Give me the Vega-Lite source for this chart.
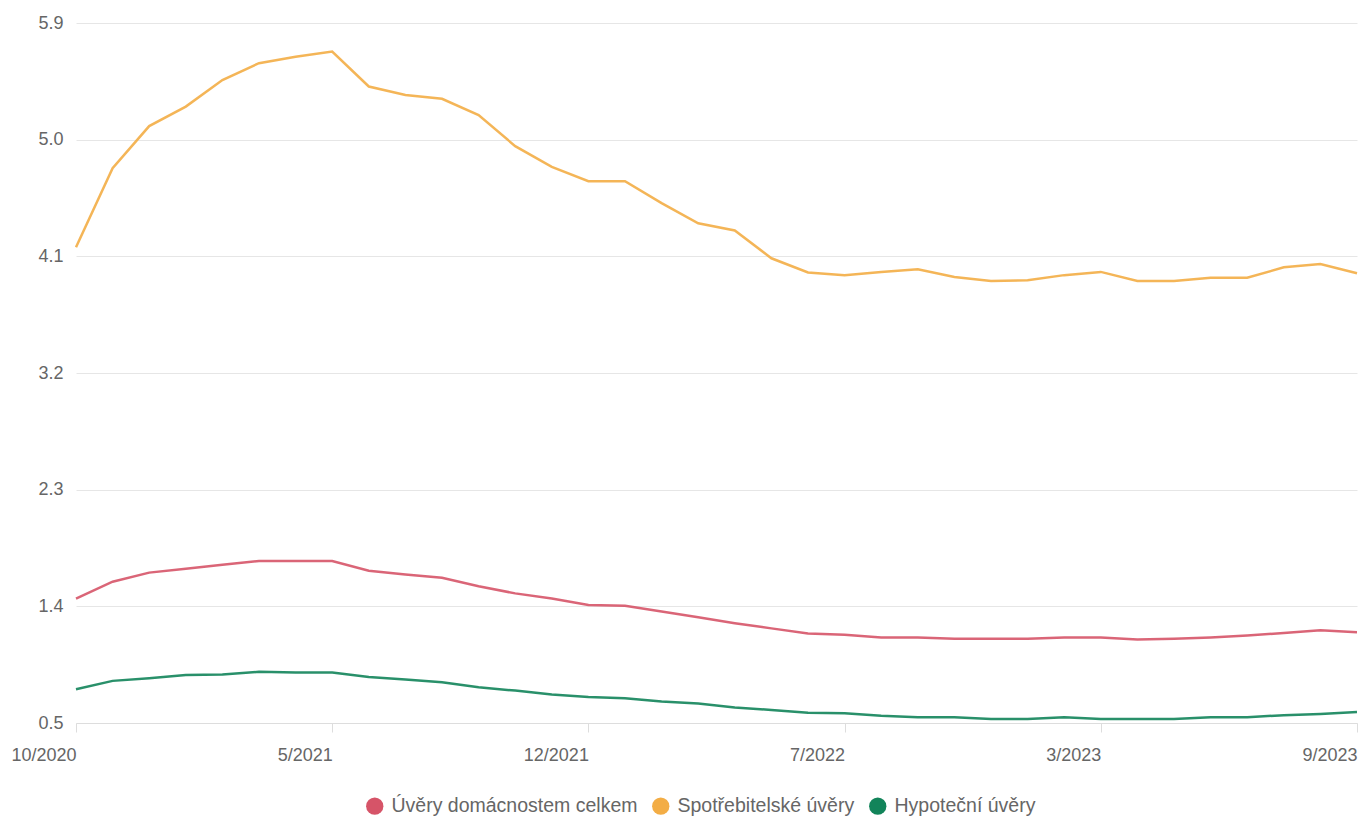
{
  "$schema": "https://vega.github.io/schema/vega-lite/v6.json",
  "width": 1281,
  "height": 700,
  "autosize": {"type": "none"},
  "padding": {"left": 76, "top": 23, "right": 2, "bottom": 93},
  "background": "white",
  "config": {
    "view": {"stroke": null},
    "font": "Liberation Sans",
    "axis": {"labelFont": "Liberation Sans", "labelColor": "#666666", "labelFontSize": 18, "title": null},
    "legend": {"labelFont": "Liberation Sans"}
  },
  "data": {
    "values": [
      {"month": "10/2020", "Úvěry domácnostem celkem": 1.46, "Spotřebitelské úvěry": 4.17, "Hypoteční úvěry": 0.76},
      {"month": "11/2020", "Úvěry domácnostem celkem": 1.59, "Spotřebitelské úvěry": 4.78, "Hypoteční úvěry": 0.825},
      {"month": "12/2020", "Úvěry domácnostem celkem": 1.66, "Spotřebitelské úvěry": 5.105, "Hypoteční úvěry": 0.845},
      {"month": "1/2021", "Úvěry domácnostem celkem": 1.69, "Spotřebitelské úvěry": 5.255, "Hypoteční úvěry": 0.87},
      {"month": "2/2021", "Úvěry domácnostem celkem": 1.72, "Spotřebitelské úvěry": 5.46, "Hypoteční úvěry": 0.875},
      {"month": "3/2021", "Úvěry domácnostem celkem": 1.75, "Spotřebitelské úvěry": 5.59, "Hypoteční úvěry": 0.895},
      {"month": "4/2021", "Úvěry domácnostem celkem": 1.75, "Spotřebitelské úvěry": 5.64, "Hypoteční úvěry": 0.89},
      {"month": "5/2021", "Úvěry domácnostem celkem": 1.75, "Spotřebitelské úvěry": 5.68, "Hypoteční úvěry": 0.89},
      {"month": "6/2021", "Úvěry domácnostem celkem": 1.675, "Spotřebitelské úvěry": 5.41, "Hypoteční úvěry": 0.855},
      {"month": "7/2021", "Úvěry domácnostem celkem": 1.645, "Spotřebitelské úvěry": 5.345, "Hypoteční úvěry": 0.835},
      {"month": "8/2021", "Úvěry domácnostem celkem": 1.62, "Spotřebitelské úvěry": 5.315, "Hypoteční úvěry": 0.815},
      {"month": "9/2021", "Úvěry domácnostem celkem": 1.555, "Spotřebitelské úvěry": 5.19, "Hypoteční úvěry": 0.775},
      {"month": "10/2021", "Úvěry domácnostem celkem": 1.5, "Spotřebitelské úvěry": 4.95, "Hypoteční úvěry": 0.75},
      {"month": "11/2021", "Úvěry domácnostem celkem": 1.46, "Spotřebitelské úvěry": 4.79, "Hypoteční úvěry": 0.72},
      {"month": "12/2021", "Úvěry domácnostem celkem": 1.41, "Spotřebitelské úvěry": 4.68, "Hypoteční úvěry": 0.7},
      {"month": "1/2022", "Úvěry domácnostem celkem": 1.405, "Spotřebitelské úvěry": 4.68, "Hypoteční úvěry": 0.69},
      {"month": "2/2022", "Úvěry domácnostem celkem": 1.36, "Spotřebitelské úvěry": 4.51, "Hypoteční úvěry": 0.665},
      {"month": "3/2022", "Úvěry domácnostem celkem": 1.315, "Spotřebitelské úvěry": 4.355, "Hypoteční úvěry": 0.65},
      {"month": "4/2022", "Úvěry domácnostem celkem": 1.27, "Spotřebitelské úvěry": 4.3, "Hypoteční úvěry": 0.62},
      {"month": "5/2022", "Úvěry domácnostem celkem": 1.23, "Spotřebitelské úvěry": 4.085, "Hypoteční úvěry": 0.6},
      {"month": "6/2022", "Úvěry domácnostem celkem": 1.19, "Spotřebitelské úvěry": 3.975, "Hypoteční úvěry": 0.58},
      {"month": "7/2022", "Úvěry domácnostem celkem": 1.18, "Spotřebitelské úvěry": 3.955, "Hypoteční úvěry": 0.575},
      {"month": "8/2022", "Úvěry domácnostem celkem": 1.16, "Spotřebitelské úvěry": 3.98, "Hypoteční úvěry": 0.555},
      {"month": "9/2022", "Úvěry domácnostem celkem": 1.16, "Spotřebitelské úvěry": 4.0, "Hypoteční úvěry": 0.545},
      {"month": "10/2022", "Úvěry domácnostem celkem": 1.15, "Spotřebitelské úvěry": 3.94, "Hypoteční úvěry": 0.545},
      {"month": "11/2022", "Úvěry domácnostem celkem": 1.15, "Spotřebitelské úvěry": 3.91, "Hypoteční úvěry": 0.53},
      {"month": "12/2022", "Úvěry domácnostem celkem": 1.15, "Spotřebitelské úvěry": 3.915, "Hypoteční úvěry": 0.53},
      {"month": "1/2023", "Úvěry domácnostem celkem": 1.16, "Spotřebitelské úvěry": 3.955, "Hypoteční úvěry": 0.545},
      {"month": "2/2023", "Úvěry domácnostem celkem": 1.16, "Spotřebitelské úvěry": 3.98, "Hypoteční úvěry": 0.53},
      {"month": "3/2023", "Úvěry domácnostem celkem": 1.145, "Spotřebitelské úvěry": 3.91, "Hypoteční úvěry": 0.53},
      {"month": "4/2023", "Úvěry domácnostem celkem": 1.15, "Spotřebitelské úvěry": 3.91, "Hypoteční úvěry": 0.53},
      {"month": "5/2023", "Úvěry domácnostem celkem": 1.16, "Spotřebitelské úvěry": 3.935, "Hypoteční úvěry": 0.545},
      {"month": "6/2023", "Úvěry domácnostem celkem": 1.175, "Spotřebitelské úvěry": 3.935, "Hypoteční úvěry": 0.545},
      {"month": "7/2023", "Úvěry domácnostem celkem": 1.195, "Spotřebitelské úvěry": 4.015, "Hypoteční úvěry": 0.56},
      {"month": "8/2023", "Úvěry domácnostem celkem": 1.215, "Spotřebitelské úvěry": 4.04, "Hypoteční úvěry": 0.57},
      {"month": "9/2023", "Úvěry domácnostem celkem": 1.2, "Spotřebitelské úvěry": 3.97, "Hypoteční úvěry": 0.585}
    ]
  },
  "transform": [
    {"fold": ["Úvěry domácnostem celkem", "Spotřebitelské úvěry", "Hypoteční úvěry"], "as": ["series", "value"]}
  ],
  "mark": {"type": "line", "strokeWidth": 2.5, "strokeOpacity": 0.9, "interpolate": "linear"},
  "encoding": {
    "x": {
      "field": "month",
      "type": "ordinal",
      "sort": null,
      "scale": {"type": "point", "padding": 0},
      "axis": {
        "values": ["10/2020", "5/2021", "12/2021", "7/2022", "2/2023", "9/2023"],
        "labelExpr": "datum.value == '2/2023' ? '3/2023' : datum.value",
        "labelAngle": 0,
        "labelAlign": "right",
        "labelBaseline": "top",
        "labelPadding": 14,
        "ticks": true,
        "tickSize": 9,
        "tickColor": "#dddddd",
        "domain": true,
        "domainColor": "#dddddd",
        "grid": false,
        "labelOverlap": false
      }
    },
    "y": {
      "field": "value",
      "type": "quantitative",
      "scale": {"domain": [0.5, 5.9], "nice": false, "zero": false},
      "axis": {
        "values": [0.5, 1.4, 2.3, 3.2, 4.1, 5.0, 5.9],
        "format": ".1f",
        "grid": true,
        "gridColor": "#e6e6e6",
        "domain": false,
        "ticks": false,
        "labelPadding": 13,
        "labelBaseline": "middle"
      }
    },
    "color": {
      "field": "series",
      "type": "nominal",
      "scale": {
        "domain": ["Úvěry domácnostem celkem", "Spotřebitelské úvěry", "Hypoteční úvěry"],
        "range": ["#d65468", "#f3ad45", "#12845a"]
      },
      "legend": {
        "title": null,
        "orient": "none",
        "direction": "horizontal",
        "legendX": 289,
        "legendY": 773,
        "symbolType": "circle",
        "symbolSize": 300,
        "labelFontSize": 19.5,
        "labelColor": "#666666",
        "labelLimit": 500,
        "labelOffset": 7,
        "columnPadding": 13,
        "encode": {
          "symbols": {
            "update": {
              "fill": {"scale": "color", "field": "value"},
              "fillOpacity": {"value": 1},
              "strokeWidth": {"value": 0}
            }
          }
        }
      }
    }
  }
}
